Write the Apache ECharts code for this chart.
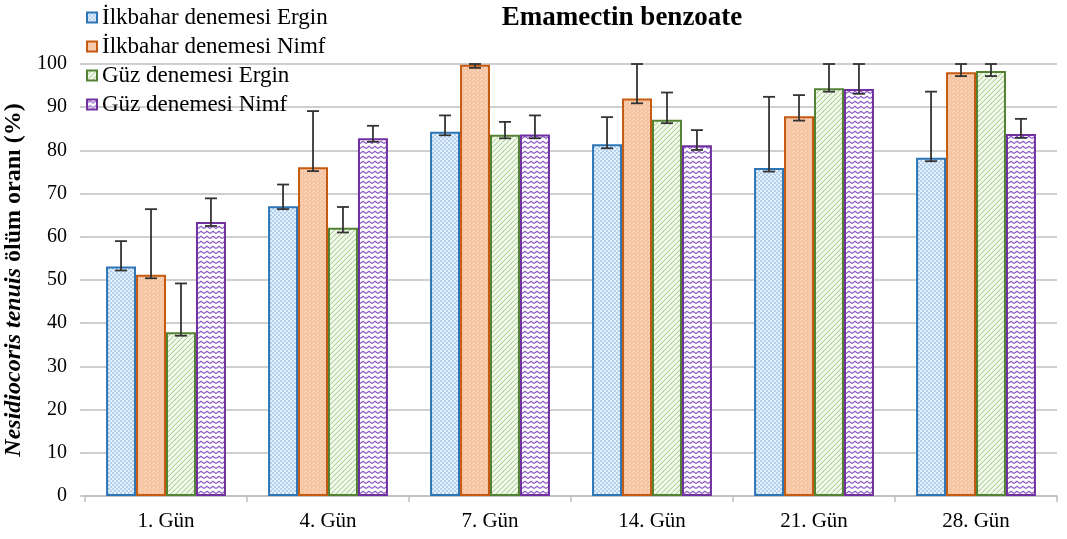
<!DOCTYPE html>
<html>
<head>
<meta charset="utf-8">
<script src="https://cdn.jsdelivr.net/npm/echarts@6/dist/echarts.min.js"></script>
<style>html,body{margin:0;padding:0;background:#fff}#c{width:1067px;height:539px}</style>
</head>
<body>
<div id="c"></div>
<script>
const categories = ['1. Gün','4. Gün','7. Gün','14. Gün','21. Gün','28. Gün'];
const seriesNames = ['İlkbahar denemesi Ergin','İlkbahar denemesi Nimf','Güz denemesi Ergin','Güz denemesi Nimf'];
const yTicks = [0,10,20,30,40,50,60,70,80,90,100];

const springAdult = [53.1, 67.1, 84.3, 81.4, 75.9, 78.3];
const springNymph = [51.2, 76.1, 99.8, 92.0, 87.9, 98.1];
const autumnAdult = [37.9, 62.1, 83.6, 87.1, 94.4, 98.4];
const autumnNymph = [63.4, 82.8, 83.7, 81.2, 94.2, 83.8];

const springAdultHigh = [59.0, 72.1, 88.1, 87.7, 92.4, 93.6];
const springAdultLow  = [52.2, 66.4, 83.5, 80.5, 75.1, 77.5];
const springNymphHigh = [66.4, 89.1, 100, 100, 92.8, 100];
const springNymphLow  = [50.4, 75.2, 99.1, 90.9, 86.9, 97.2];
const autumnAdultHigh = [49.2, 66.9, 86.6, 93.4, 100, 100];
const autumnAdultLow  = [37.1, 61.0, 82.8, 86.3, 93.6, 97.2];
const autumnNymphHigh = [68.9, 85.7, 88.1, 84.7, 100, 87.3];
const autumnNymphLow  = [62.5, 82.0, 82.8, 80.1, 93.1, 82.9];

const values = [springAdult, springNymph, autumnAdult, autumnNymph];
const highs = [springAdultHigh, springNymphHigh, autumnAdultHigh, autumnNymphHigh];
const lows = [springAdultLow, springNymphLow, autumnAdultLow, autumnNymphLow];

function pat(w, h, draw) {
  const c = document.createElement('canvas');
  c.width = w; c.height = h;
  const g = c.getContext('2d');
  draw(g, w, h);
  return { image: c, repeat: 'repeat' };
}
const patterns = [
  pat(4, 4, (g) => {
    g.fillStyle = '#e6f0fa'; g.fillRect(0, 0, 4, 4);
    g.fillStyle = '#b3d0ee';
    g.fillRect(0, 0, 2, 2); g.fillRect(2, 2, 2, 2);
  }),
  pat(4, 4, (g) => {
    g.fillStyle = '#f7c4a2'; g.fillRect(0, 0, 4, 4);
    g.fillStyle = '#fbdcc8';
    g.fillRect(0, 0, 1, 1); g.fillRect(2, 2, 1, 1); g.fillRect(1, 3, 1, 1);
  }),
  pat(5, 5, (g) => {
    g.fillStyle = '#f4f9f0'; g.fillRect(0, 0, 5, 5);
    for (let x = 0; x < 5; x++) for (let y = 0; y < 5; y++) {
      if ((x + y) % 5 === 4) { g.fillStyle = '#aed395'; g.fillRect(x, y, 1, 1); }
      else if ((x + y) % 5 === 3) { g.fillStyle = '#dcedd0'; g.fillRect(x, y, 1, 1); }
    }
  }),
  pat(6, 5, (g) => {
    g.fillStyle = '#ffffff'; g.fillRect(0, 0, 6, 5);
    g.strokeStyle = '#8e5cc4'; g.lineWidth = 1.2;
    g.beginPath(); g.moveTo(0, 3.6); g.lineTo(3, 1.2); g.lineTo(6, 3.6); g.stroke();
  })
];
const borders = ['#2e75b6', '#c55a11', '#548235', '#7030a0'];

const GAP = 0.26;
function errSeries(idx) {
  return {
    type: 'custom',
    name: seriesNames[idx] + ' hata',
    z: 10,
    silent: true,
    clip: false,
    data: categories.map((c, i) => [i, lows[idx][i], highs[idx][i]]),
    encode: { x: 0, y: [1, 2] },
    renderItem: (params, api) => {
      const xi = api.value(0);
      const band = api.size([1, 0])[0];
      const total = band * (1 - GAP);
      const w = total / 4;
      const cx = api.coord([xi, 0])[0] - total / 2 + (idx + 0.5) * w;
      const yl = api.coord([xi, api.value(1)])[1];
      const yh = api.coord([xi, api.value(2)])[1];
      const hw = 6;
      const style = { stroke: '#333333', lineWidth: 1.8 };
      return {
        type: 'group',
        children: [
          { type: 'line', shape: { x1: cx, y1: yl, x2: cx, y2: yh }, style },
          { type: 'line', shape: { x1: cx - hw, y1: yh, x2: cx + hw, y2: yh }, style },
          { type: 'line', shape: { x1: cx - hw, y1: yl, x2: cx + hw, y2: yl }, style }
        ]
      };
    }
  };
}

const FONT = 'Liberation Serif';
const barSeries = seriesNames.map((n, i) => ({
  type: 'bar',
  name: n,
  data: values[i],
  barGap: '0%',
  barCategoryGap: (GAP * 100) + '%',
  itemStyle: { color: patterns[i], borderColor: borders[i], borderWidth: 2 }
}));

const chart = echarts.init(document.getElementById('c'), null, { renderer: 'canvas' });
chart.setOption({
  animation: false,
  backgroundColor: '#fff',
  title: {
    text: 'Emamectin benzoate',
    left: 617, top: 0, textAlign: 'center',
    textStyle: { fontFamily: FONT, fontWeight: 'bold', fontSize: 27, color: '#000' }
  },
  legend: {
    data: seriesNames,
    orient: 'vertical',
    left: 86, top: 6,
    padding: 0,
    itemWidth: 10, itemHeight: 10, itemGap: 6,
    icon: 'rect',
    textStyle: { fontFamily: FONT, fontSize: 23, color: '#000', lineHeight: 23 }
  },
  grid: { left: 85, right: 10, top: 64, bottom: 43, containLabel: false, outerBoundsMode: 'none' },
  xAxis: {
    type: 'category',
    data: categories,
    axisLine: { lineStyle: { color: '#bfbfbf', width: 1.5 } },
    axisTick: { show: true, length: 6, lineStyle: { color: '#bfbfbf', width: 1.5 } },
    axisLabel: { fontFamily: FONT, fontSize: 21, color: '#000', margin: 15 }
  },
  yAxis: {
    type: 'value',
    min: 0, max: 100, interval: 10,
    name: '{i|Nesidiocoris tenuis} ölüm oranı (%)',
    nameLocation: 'middle',
    nameGap: 53,
    nameRotate: 90,
    nameTextStyle: {
      fontFamily: FONT, fontSize: 24, fontWeight: 'bold', color: '#000',
      rich: { i: { fontFamily: FONT, fontSize: 24, fontWeight: 'bold', fontStyle: 'italic', color: '#000' } }
    },
    axisLine: { show: false },
    axisTick: { show: true, length: 5, lineStyle: { color: '#bfbfbf', width: 1.5 } },
    splitLine: { lineStyle: { color: '#bfbfbf', width: 1.5 } },
    axisLabel: {
      fontFamily: FONT, fontSize: 20, color: '#000', margin: 18,
      formatter: (v) => (yTicks.indexOf(v) >= 0 ? String(v) : '')
    }
  },
  series: barSeries.concat([0, 1, 2, 3].map(errSeries))
});
</script>
</body>
</html>
